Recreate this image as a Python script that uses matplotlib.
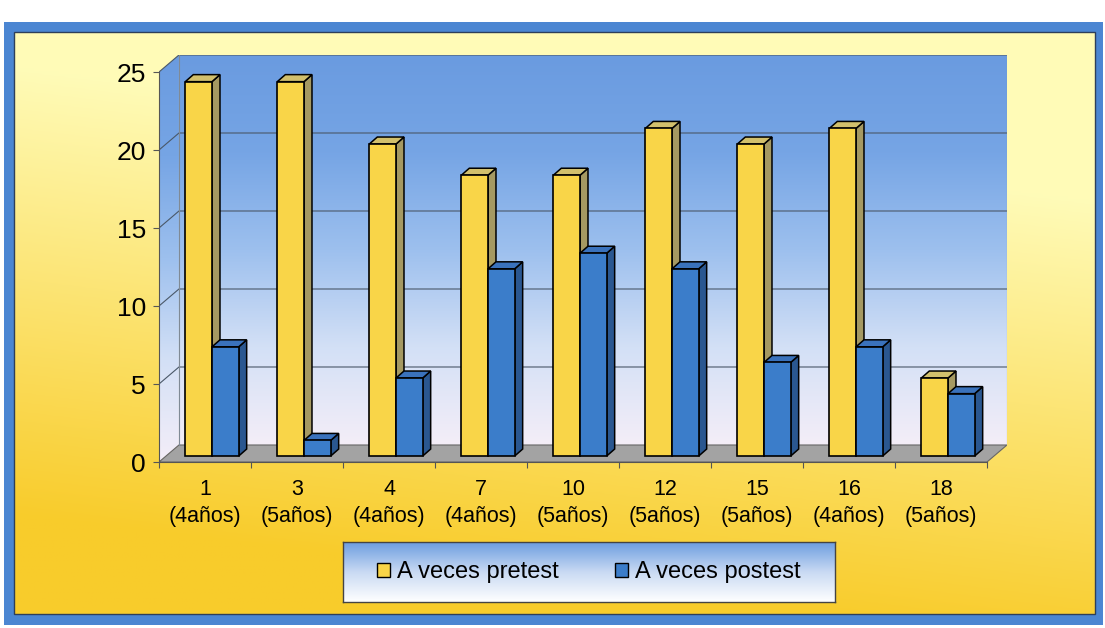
import numpy as np
import matplotlib
matplotlib.use('Agg')
import matplotlib.pyplot as plt
from matplotlib.patches import Polygon, Rectangle, Patch
from matplotlib.colors import LinearSegmentedColormap

# datos
ninos = ['1', '3', '4', '7', '10', '12', '15', '16', '18']
edades = ['4años', '5años', '4años', '4años', '5años', '5años', '5años', '4años', '5años']
pretest = [24, 24, 20, 18, 18, 21, 20, 21, 5]
postest = [7, 1, 5, 12, 13, 12, 6, 7, 4]

plt.rcParams['font.family'] = ['Liberation Sans', 'DejaVu Sans']

W, H = 1105, 628
fig = plt.figure(figsize=(W / 100, H / 100), dpi=100)

# fondo: marco azul y degradado amarillo
bg = fig.add_axes([0, 0, 1, 1], zorder=-10)
bg.axis('off')
bg.add_patch(Rectangle((4, 22), 1099, 603, facecolor='#4B86D2', edgecolor='none'))
yy, xx = np.mgrid[0:1:200j, 0:1:300j]
d = np.clip(1.3 * yy - 0.38 + 0.3 * (1 - xx), 0, 1)
light = np.array([1.0, 0.985, 0.72])
dark = np.array([0.975, 0.80, 0.17])
img = light + (dark - light) * d[..., None]
bg.imshow(img, extent=(14, 1095, 614, 32), aspect='auto', zorder=1)
bg.add_patch(Rectangle((14, 32), 1081, 582, facecolor='none', edgecolor='#2d3f5a', lw=1, zorder=2))
bg.set_xlim(0, W)
bg.set_ylim(H, 0)

# ejes principales (plano frontal)
DX, DY = 0.217, 1.09       # profundidad de las paredes
F0, BDX, BDY = 0.35, 0.087, 0.45   # posicion y profundidad de las barras
n = len(ninos)
ax = fig.add_axes([159 / W, (H - 462) / H, (n + DX) * 92 / W, (25 + DY) * 15.6 / H])
ax.patch.set_visible(False)

wall_cmap = LinearSegmentedColormap.from_list(
    'wall', ['#F4EEF8', '#D3E0F6', '#9DC0EE', '#76A5E5', '#6A9BE0'])
grad = np.linspace(0, 1, 256).reshape(-1, 1)

ax.imshow(grad, extent=(DX, n + DX, DY, 25 + DY), origin='lower', cmap=wall_cmap,
          aspect='auto', zorder=0)
lw_poly = Polygon([(0, 0), (DX, DY), (DX, 25 + DY), (0, 25)], closed=True,
                  facecolor='none', edgecolor='none', transform=ax.transData)
ax.add_patch(lw_poly)
im2 = ax.imshow(grad, extent=(0, DX, 0, 25 + DY), origin='lower', cmap=wall_cmap,
                aspect='auto', zorder=0)
im2.set_clip_path(lw_poly)

# suelo
ax.add_patch(Polygon([(0, 0), (n, 0), (n + DX, DY), (DX, DY)], closed=True,
                     facecolor='#A3A3A3', edgecolor='#666666', lw=0.8, zorder=1))

# lineas de division
for v in range(5, 26, 5):
    ax.plot([0, DX, n + DX], [v, v + DY, v + DY], color='#4A5868', lw=0.8, zorder=1)
ax.plot([DX, DX], [DY, 25 + DY], color='#7f8a96', lw=0.8, zorder=1)
ax.plot([n + DX, n + DX], [DY, 25 + DY], color='#7f8a96', lw=0.8, zorder=1)

# barras 3D
w = 0.29
x = np.arange(n) + 0.5
series = [
    (pretest, x - w + F0 * DX, '#F9D548', '#D2C06C', '#A59962', 3),
    (postest, x + F0 * DX, '#3B7DCA', '#3A72BC', '#2A5790', 6),
]
for vals, left, cfront, ctop, cside, z in series:
    base = F0 * DY
    for l, v in zip(left, vals):
        r = l + w
        top = base + v
        ax.add_patch(Polygon([(r, base), (r + BDX, base + BDY), (r + BDX, top + BDY), (r, top)],
                             closed=True, facecolor=cside, edgecolor='black', lw=1.1, zorder=z))
        ax.add_patch(Polygon([(l, top), (r, top), (r + BDX, top + BDY), (l + BDX, top + BDY)],
                             closed=True, facecolor=ctop, edgecolor='black', lw=1.1, zorder=z))
    ax.bar(left, vals, width=w, bottom=base, align='edge', color=cfront,
           edgecolor='black', lw=1.2, zorder=z + 1)

ax.set_xlim(0, n + DX)
ax.set_ylim(0, 25 + DY)

for s in ['top', 'right']:
    ax.spines[s].set_visible(False)
ax.spines['left'].set_bounds(0, 25)
ax.spines['bottom'].set_bounds(0, n)
ax.spines['left'].set_color('#555555')
ax.spines['bottom'].set_color('#555555')

ax.set_yticks(range(0, 26, 5))
ax.tick_params(axis='y', labelsize=19, length=4.5, color='#555555', pad=5)
ax.set_xticks(np.arange(n + 1))
ax.set_xticklabels([])
ax.tick_params(axis='x', which='major', length=4, color='#555555')
ax.set_xticks(x, minor=True)
ax.set_xticklabels([f'{a}\n({b})' for a, b in zip(ninos, edades)], minor=True,
                   fontsize=15.5, linespacing=1.4)
ax.tick_params(axis='x', which='minor', length=0, pad=12)

# leyenda con fondo degradado
lax = fig.add_axes([343 / W, (H - 602) / H, 492 / W, 60 / H])
leg_cmap = LinearSegmentedColormap.from_list('leg', ['#FFFFFF', '#C9DAF3', '#6C9DE0'])
lax.imshow(grad, extent=(0, 1, 0, 1), origin='lower', cmap=leg_cmap, aspect='auto')
lax.set_xticks([])
lax.set_yticks([])
for s in lax.spines.values():
    s.set_color('#444444')
    s.set_linewidth(1)
handles = [Patch(facecolor='#F9D548', edgecolor='black', lw=1),
           Patch(facecolor='#3B7DCA', edgecolor='black', lw=1)]
lax.legend(handles, ['A veces pretest', 'A veces postest'], loc='center', ncol=2,
           frameon=False, fontsize=17, handlelength=0.55, handleheight=0.55,
           handletextpad=0.3, columnspacing=2.4, borderaxespad=0)

fig.savefig('out.png', dpi=100)
